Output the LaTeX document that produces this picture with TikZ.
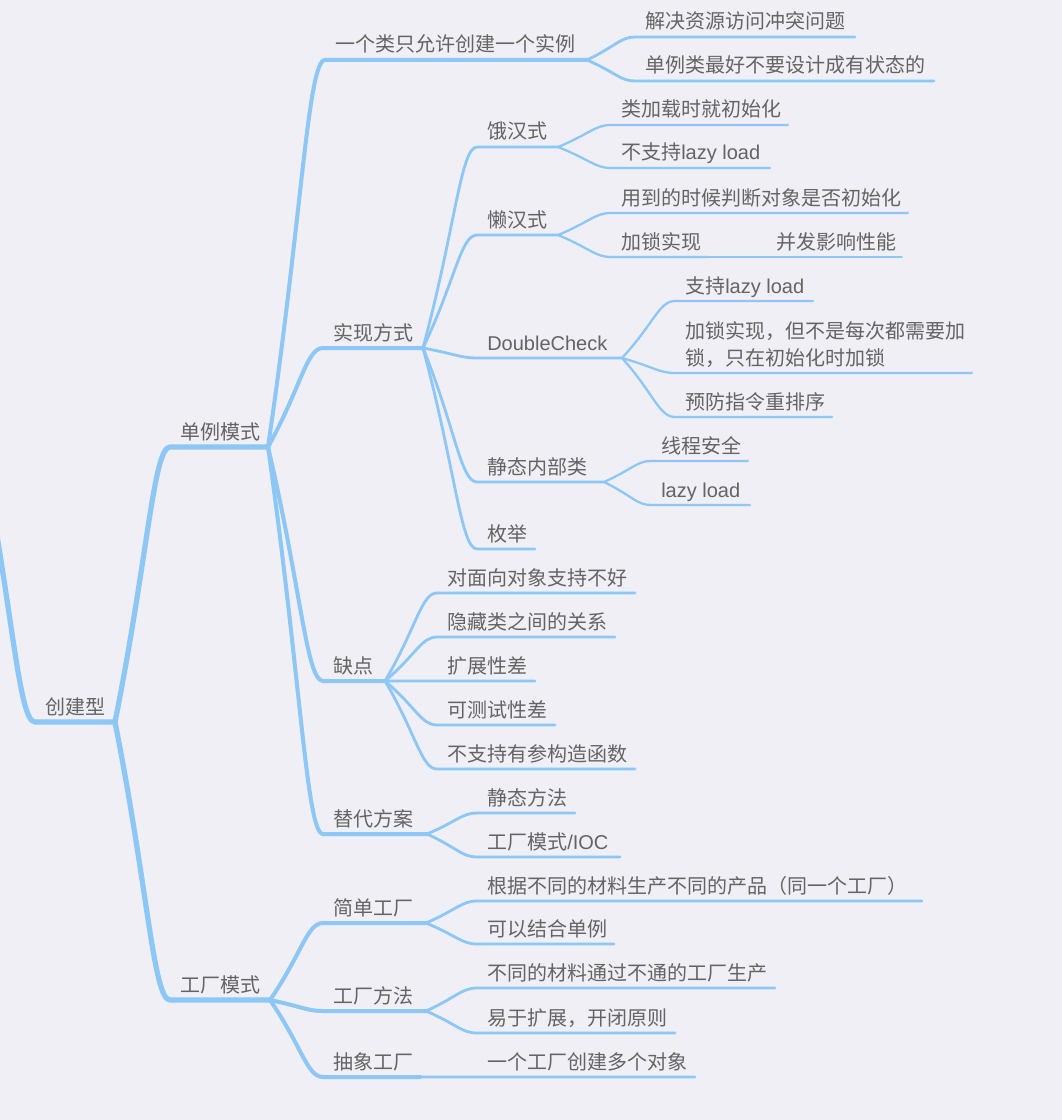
\documentclass[tikz,border=0pt]{standalone}
\usepackage{fontspec}
\setmainfont{Noto Sans CJK SC}
\newfontfamily\lat{Liberation Sans}
\usetikzlibrary{calc}
\definecolor{bgc}{RGB}{239,239,245}
\definecolor{linec}{RGB}{140,199,246}
\definecolor{txtc}{RGB}{100,100,100}
\tikzset{
  txt/.style={anchor=base west, inner sep=0pt, text=txtc, font=\fontsize{15pt}{20pt}\selectfont},
  conn/.style={draw=linec, line cap=round, line join=round},
  wa/.style={conn, line width=3.9pt},
  wb/.style={conn, line width=3pt},
  wc/.style={conn, line width=2.1pt},
  wd/.style={conn, line width=1.7pt},
  we/.style={conn, line width=1.4pt},
}
\newcommand\mmtopic[5]{%
  \coordinate (#1-l) at (#2,#4);
  \coordinate (#1-r) at (#3,#4);
  \node[txt] (#1) at (#2+10,#4-8) {#5};}
\newcommand\mmbranch[4]{%
  \draw[#1] let \p1=(#2), \p2=(#3) in (\p1) .. controls ($(\p1)!0.6!(\p2)$) and ({\x2-0.3*(\x2-\x1)},\y2) .. (\p2) -- (#4);}
\begin{document}
\begin{tikzpicture}[x=0.75pt,y=-0.75pt]
\fill[bgc] (0,0) rectangle (1062,1120);
\useasboundingbox (0,0) rectangle (1062,1120);
\clip (0,0) rectangle (1062,1120);
% root and level 1
\coordinate (up) at (-20,440);
\mmtopic{root}{35}{115}{722}{创建型}
\mmtopic{dl}{170}{268}{447}{单例模式}
\mmtopic{gc}{170}{270}{1000}{工厂模式}
% level 2
\mmtopic{one}{325}{587}{60}{一个类只允许创建一个实例}
\mmtopic{impl}{323}{423}{348}{实现方式}
\mmtopic{cons}{323}{385}{681}{缺点}
\mmtopic{alt}{323}{427}{834}{替代方案}
\mmtopic{simple}{323}{426}{923}{简单工厂}
\mmtopic{fmeth}{323}{426}{1011}{工厂方法}
\mmtopic{abs}{323}{420}{1077}{抽象工厂}
% level 3
\mmtopic{one1}{635}{855}{37}{解决资源访问冲突问题}
\mmtopic{one2}{635}{934}{81}{单例类最好不要设计成有状态的}
\mmtopic{ehan}{477}{558}{147}{饿汉式}
\mmtopic{lhan}{477}{558}{235}{懒汉式}
\mmtopic{dc}{477}{622}{358}{\lat DoubleCheck}
\mmtopic{jt}{477}{604}{482}{静态内部类}
\mmtopic{mj}{477}{535}{549}{枚举}
\mmtopic{c1}{437}{635}{593}{对面向对象支持不好}
\mmtopic{c2}{437}{615}{637}{隐藏类之间的关系}
\mmtopic{c3}{437}{535}{681}{扩展性差}
\mmtopic{c4}{437}{555}{725}{可测试性差}
\mmtopic{c5}{437}{635}{769}{不支持有参构造函数}
\mmtopic{a1}{477}{575}{813}{静态方法}
\mmtopic{a2}{477}{620}{857}{工厂模式{\lat /IOC}}
\mmtopic{s1}{477}{922}{901}{根据不同的材料生产不同的产品（同一个工厂）}
\mmtopic{s2}{477}{614}{944}{可以结合单例}
\mmtopic{f1}{477}{775}{988}{不同的材料通过不通的工厂生产}
\mmtopic{f2}{477}{675}{1033}{易于扩展，开闭原则}
\mmtopic{ab1}{477}{695}{1077}{一个工厂创建多个对象}
% level 4
\mmtopic{e1}{611}{788}{125}{类加载时就初始化}
\mmtopic{e2}{611}{770}{168}{不支持{\lat lazy load}}
\mmtopic{l1}{611}{908}{213}{用到的时候判断对象是否初始化}
\mmtopic{l2}{611}{708}{257}{加锁实现}
\mmtopic{d1}{675}{813}{301}{支持{\lat lazy load}}
\coordinate (d2-l) at (675,373);
\coordinate (d2-r) at (972,373);
\node[txt] (d2) at (685,365) {\begin{tabular}[b]{@{}l@{}}加锁实现，但不是每次都需要加\\锁，只在初始化时加锁\end{tabular}};
\mmtopic{d3}{675}{832}{417}{预防指令重排序}
\mmtopic{j1}{651}{748}{461}{线程安全}
\mmtopic{j2}{651}{750}{505}{\lat lazy load}
% level 5
\mmtopic{l2a}{766}{902}{257}{并发影响性能}
% connectors
\mmbranch{wa}{up}{root-l}{root-r}
\mmbranch{wa}{root-r}{dl-l}{dl-r}
\mmbranch{wa}{root-r}{gc-l}{gc-r}
\foreach \c in {one,impl,cons,alt} {\mmbranch{wb}{dl-r}{\c-l}{\c-r}}
\foreach \c in {simple,fmeth,abs} {\mmbranch{wb}{gc-r}{\c-l}{\c-r}}
\foreach \c in {one1,one2} {\mmbranch{wc}{one-r}{\c-l}{\c-r}}
\foreach \c in {ehan,lhan,dc,jt,mj} {\mmbranch{wc}{impl-r}{\c-l}{\c-r}}
\foreach \c in {c1,c2,c3,c4,c5} {\mmbranch{wc}{cons-r}{\c-l}{\c-r}}
\foreach \c in {a1,a2} {\mmbranch{wc}{alt-r}{\c-l}{\c-r}}
\foreach \c in {s1,s2} {\mmbranch{wc}{simple-r}{\c-l}{\c-r}}
\foreach \c in {f1,f2} {\mmbranch{wc}{fmeth-r}{\c-l}{\c-r}}
\mmbranch{wc}{abs-r}{ab1-l}{ab1-r}
\foreach \c in {e1,e2} {\mmbranch{wd}{ehan-r}{\c-l}{\c-r}}
\foreach \c in {l1,l2} {\mmbranch{wd}{lhan-r}{\c-l}{\c-r}}
\foreach \c in {d1,d2,d3} {\mmbranch{wd}{dc-r}{\c-l}{\c-r}}
\foreach \c in {j1,j2} {\mmbranch{wd}{jt-r}{\c-l}{\c-r}}
\mmbranch{we}{l2-r}{l2a-l}{l2a-r}
\end{tikzpicture}
\end{document}
